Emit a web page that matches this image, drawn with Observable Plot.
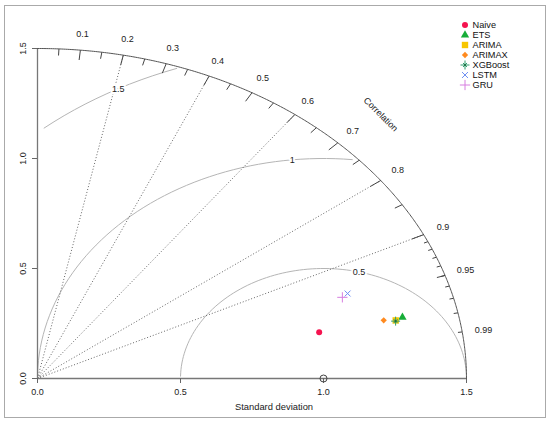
<!DOCTYPE html>
<html><head><meta charset="utf-8">
<script src="https://cdn.jsdelivr.net/npm/d3@7"></script>
<script src="https://cdn.jsdelivr.net/npm/@observablehq/plot@0.6"></script>
<style>
body{margin:0;background:#fff;}
#wrap{position:relative;width:550px;height:422px;}
#frame{position:absolute;left:4px;top:5px;width:540px;height:411px;border:1.5px solid #aaa;pointer-events:none;}
svg{position:absolute;left:0;top:0;}
</style></head><body><div id="wrap"><div id="frame"></div></div>
<script>
// ---- data ----
const models = ["Naive", "ETS", "ARIMA", "ARIMAX", "XGBoost", "LSTM", "GRU"];
const sdValues = [1.007, 1.306, 1.280, 1.239, 1.279, 1.151, 1.128];
const corrValues = [0.978, 0.977, 0.9785, 0.977, 0.979, 0.942, 0.945];
const modelColors = ["#f5134f", "#17ad38", "#f7c600", "#ff8a1f", "#2e9e6e", "#6f8ff2", "#d77fe0"];
const modelSymbols = ["circle", "triangle", "square", "diamond", "asterisk", "times", "plus"];

const refSD = 1.0;
const maxSD = 1.5;
const gammaLevels = [0.5, 1, 1.5];
const gammaLabelIdx = [44, 56, 69];
const radialCorr = [0.2, 0.4, 0.6, 0.8, 0.9];
const bigTicks = [0.1, 0.2, 0.3, 0.4, 0.5, 0.6, 0.7, 0.8, 0.9];
const medTicks = [0.05, 0.15, 0.25, 0.35, 0.45, 0.55, 0.65, 0.75, 0.85, 0.95];
const smallTicks = [0.91, 0.92, 0.93, 0.94, 0.95, 0.96, 0.97, 0.98, 0.99];
const corrLabels = [0.1, 0.2, 0.3, 0.4, 0.5, 0.6, 0.7, 0.8, 0.9, 0.95, 0.99];
const sdTicks = [0, 0.5, 1, 1.5];

// ---- derived geometry ----
const pts = models.map((m, i) => ({
  model: m, color: modelColors[i], symbol: modelSymbols[i], i,
  x: sdValues[i] * corrValues[i],
  y: sdValues[i] * Math.sqrt(1 - corrValues[i] ** 2)
}));
const sinC = c => Math.sqrt(1 - c * c);
const deg = Math.PI / 180;
const arcPts = d3.range(0, 90.25, 0.25).map(a => ({x: maxSD * Math.cos(a * deg), y: maxSD * Math.sin(a * deg)}));
const tickSegs = [
  ...bigTicks.map(c => ({c, k: 0.97})),
  ...medTicks.map(c => ({c, k: 0.98})),
  ...smallTicks.map(c => ({c, k: 0.99}))
];
const angles = d3.range(0, Math.PI, 0.03);
const gammaCurves = [];
const gammaLabels = [];
gammaLevels.forEach((g, gi) => {
  const xs = angles.map(a => Math.cos(a) * g + refSD);
  const ys = angles.map(a => Math.sin(a) * g);
  let end = xs.findIndex(x => x < 0);
  end = end >= 0 ? end - 1 : xs.length - 1;
  let start = -1;
  xs.forEach((x, k) => { if (x * x + ys[k] * ys[k] > maxSD * maxSD + 1e-9) start = k; });
  start = start + 1;
  for (let k = start; k <= end; k++) gammaCurves.push({g, x: xs[k], y: ys[k]});
  const li = gammaLabelIdx[gi];
  gammaLabels.push({g, x: xs[li], y: ys[li]});
});

function modelMarks(d, extra = {}) {
  const base = {x: "x", y: "y", ...extra};
  if (d.symbol === "circle") return [Plot.dot([d], {...base, symbol: "circle", r: 3, fill: d.color})];
  if (d.symbol === "triangle") return [Plot.dot([d], {...base, symbol: "triangle", r: 3.1, fill: d.color})];
  if (d.symbol === "square") return [Plot.dot([d], {...base, symbol: "square", r: 3.6, fill: d.color})];
  if (d.symbol === "diamond") return [Plot.dot([d], {...base, symbol: "square", r: 2.5, rotate: 45, fill: d.color})];
  if (d.symbol === "asterisk") return [
    Plot.dot([d], {...base, symbol: "plus", r: 3.0, stroke: d.color, strokeWidth: 1}),
    Plot.dot([d], {...base, symbol: "times", r: 2.0, stroke: d.color, strokeWidth: 1}),
    Plot.dot([d], {...base, symbol: "circle", r: 1.1, fill: "#1b6a3e"})
  ];
  if (d.symbol === "times") return [Plot.dot([d], {...base, symbol: "times", r: 2.8, stroke: d.color, strokeWidth: 1})];
  return [Plot.dot([d], {...base, symbol: "plus", r: 3.4, stroke: d.color, strokeWidth: 1})];
}

const legendMarks = pts.flatMap((d, i) => {
  const dy = -23.5 + i * 10;
  return [
    ...modelMarks(d, {x: null, y: null, frameAnchor: "top-right", dx: -1.5, dy}),
    Plot.text([d], {frameAnchor: "top-right", dx: 6, dy, text: "model", textAnchor: "start", lineAnchor: "middle", fill: "#111", fontSize: 9.2})
  ];
});

const chart = Plot.plot({
  width: 550, height: 422,
  marginLeft: 37, marginRight: 84, marginTop: 48, marginBottom: 44,
  x: {domain: [0, maxSD]},
  y: {domain: [0, maxSD]},
  style: {fontFamily: "'Liberation Sans', Arial, sans-serif", fontSize: "9px", background: "transparent"},
  marks: [
    // gamma (centered RMS) circles
    Plot.line(gammaCurves, {x: "x", y: "y", z: "g", stroke: "#b5b5b5", strokeWidth: 1}),
    // radial correlation lines
    Plot.link(radialCorr, {x1: 0, y1: 0, x2: c => maxSD * c, y2: c => maxSD * sinC(c), stroke: "#555", strokeWidth: 0.9, strokeDasharray: "1,2"}),
    // axes lines
    Plot.ruleX([0], {y1: 0, y2: maxSD, stroke: "#777", strokeWidth: 1.3}),
    Plot.ruleY([0], {x1: 0, x2: maxSD, stroke: "#777", strokeWidth: 1.3}),
    Plot.axisX({ticks: sdTicks, tickFormat: d3.format(".1f"), tickSize: 5, tickPadding: 5, label: null, stroke: "#666", fill: "#222"}),
    Plot.axisY({ticks: sdTicks, tickFormat: d3.format(".1f"), tickSize: 5, tickPadding: 7, tickRotate: -90, label: null, stroke: "#666", fill: "#222"}),
    // outer arc
    Plot.line(arcPts, {x: "x", y: "y", stroke: "#555", strokeWidth: 1}),
    Plot.link(tickSegs, {x1: d => maxSD * d.c, y1: d => maxSD * sinC(d.c), x2: d => d.k * maxSD * d.c, y2: d => d.k * maxSD * sinC(d.c), stroke: "#444", strokeWidth: 1}),
    Plot.text(corrLabels, {x: c => 1.05 * maxSD * c, y: c => 1.05 * maxSD * sinC(c), text: c => String(c), fill: "#222"}),
    Plot.text(["Correlation"], {x: () => 0.8 * maxSD, y: () => 0.8 * maxSD, text: d => d, rotate: 45, fill: "#222"}),
    // gamma labels
    Plot.text(gammaLabels, {x: "x", y: "y", text: d => String(d.g), fill: "#222", stroke: "white", strokeWidth: 4}),
    // reference point
    Plot.dot([refSD], {x: d => d, y: () => 0, r: 3.5, stroke: "#444", strokeWidth: 1, fill: "none"}),
    // x title
    Plot.text(["Standard deviation"], {frameAnchor: "bottom", dx: 22, dy: 28, lineAnchor: "middle", text: d => d, fill: "#222", fontSize: 9.4}),
    // model points
    ...pts.flatMap(d => modelMarks(d)),
    // legend
    ...legendMarks
  ]
});
document.getElementById("wrap").appendChild(chart);
</script></body></html>
